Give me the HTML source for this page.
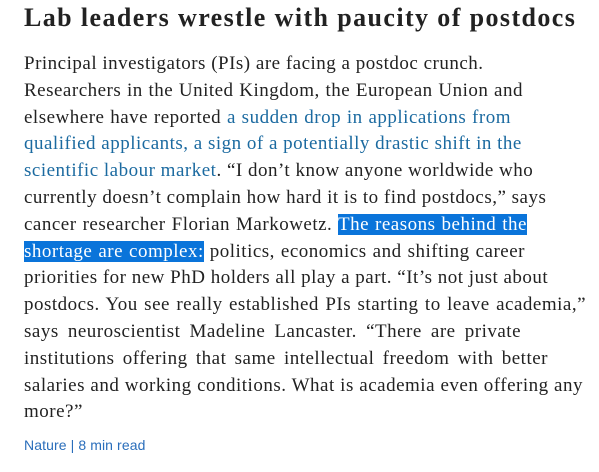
<!DOCTYPE html>
<html><head><meta charset="utf-8"><style>
html,body{margin:0;padding:0;background:#fff;width:599px;height:472px;overflow:hidden}
.t{position:absolute;left:24px;top:3px;font:bold 26px "Liberation Serif",serif;color:#222;white-space:nowrap;letter-spacing:1.4px}
.b{position:absolute;left:24px;top:51px;font:19px "Liberation Serif",serif;color:#222;line-height:26.8px;letter-spacing:0.5px}
.l{white-space:nowrap;height:26.8px;text-align:justify;text-align-last:justify}
a{color:#1b6aa0;text-decoration:none}
.h{background:#0a74da;color:#fff}
.f{position:absolute;left:24px;top:437px;font:14px "Liberation Sans",sans-serif;color:#2a6ebb;letter-spacing:0.1px}
</style></head><body>
<div class="t">Lab leaders wrestle with paucity of postdocs</div>
<div class="b">
<div class="l" style="width:459px">Principal investigators (PIs) are facing a postdoc crunch.</div>
<div class="l" style="width:499px">Researchers in the United Kingdom, the European Union and</div>
<div class="l" style="width:487px">elsewhere have reported <a>a sudden drop in applications from</a></div>
<div class="l" style="width:496px"><a>qualified applicants, a sign of a potentially drastic shift in the</a></div>
<div class="l" style="width:472px"><a>scientific labour market</a>. “I don’t know anyone worldwide who</div>
<div class="l" style="width:503px">currently doesn’t complain how hard it is to find postdocs,” says</div>
<div class="l" style="width:503px">cancer researcher Florian Markowetz. <span class="h">The reasons behind the</span></div>
<div class="l" style="width:501px"><span class="h">shortage are complex:</span> politics, economics and shifting career</div>
<div class="l" style="width:516px">priorities for new PhD holders all play a part. “It’s not just about</div>
<div class="l" style="width:562px">postdocs. You see really established PIs starting to leave academia,”</div>
<div class="l" style="width:497px">says neuroscientist Madeline Lancaster. “There are private</div>
<div class="l" style="width:524px">institutions offering that same intellectual freedom with better</div>
<div class="l" style="width:559px">salaries and working conditions. What is academia even offering any</div>
<div class="l" style="text-align-last:left">more?”</div>
</div>
<div class="f">Nature | 8 min read</div>
</body></html>
